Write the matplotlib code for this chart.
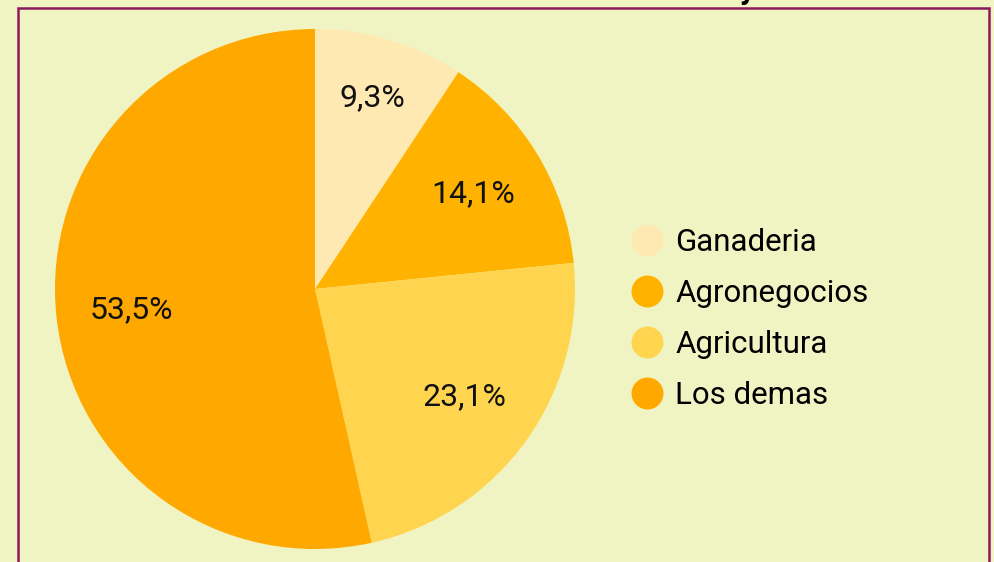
import matplotlib.pyplot as plt
from matplotlib.lines import Line2D
from matplotlib.patches import Rectangle

plt.rcParams['font.family'] = ['Roboto', 'DejaVu Sans']

categorias = ['Ganaderia', 'Agronegocios', 'Agricultura', 'Los demas']
valores = [9.3, 14.1, 23.1, 53.5]
colores = ['#FFE9B3', '#FFB300', '#FFD54F', '#FFA800']

fondo = '#F0F4C3'
borde = '#8E1A5E'

fig = plt.figure(figsize=(9.95, 5.62), dpi=100, facecolor=fondo)

# marco (se sale por abajo, como en la captura)
fig.patches.append(Rectangle((18 / 995, -0.05), 971 / 995, 1.05 - 8 / 562,
                             transform=fig.transFigure, fill=False,
                             edgecolor=borde, linewidth=1.8))

# trozo del titulo que queda cortado arriba
fig.text(748 / 995, 1 + 1 / 562, 'y', fontsize=22, fontweight='bold',
         ha='center', va='baseline')

ax = fig.add_axes([55 / 995, 13 / 562, 520 / 995, 520 / 562])
ax.set_facecolor(fondo)

wedges, textos, pcts = ax.pie(
    valores, colors=colores, startangle=90, counterclock=False,
    autopct=lambda p: f'{p:.1f}%'.replace('.', ','), pctdistance=0.71,
    wedgeprops=dict(linewidth=0), textprops=dict(fontsize=23, color='#111111'))
# la etiqueta del trozo chico va un poco mas afuera
x, y = pcts[0].get_position()
pcts[0].set_position((x * 0.77 / 0.71, y * 0.77 / 0.71))
ax.set_xlim(-1, 1)
ax.set_ylim(-1, 1)
ax.set_aspect('equal')
ax.axis('off')

handles = [Line2D([], [], marker='o', linestyle='', markersize=23,
                  markerfacecolor=c, markeredgewidth=0) for c in colores]
fig.legend(handles, categorias, loc='center left',
           bbox_to_anchor=(613 / 995, 1 - 319 / 562), frameon=False,
           fontsize=22.5, labelspacing=0.7, handletextpad=0.3,
           handlelength=1.2, borderpad=0)

fig.savefig('out.png', dpi=100, facecolor=fondo)
